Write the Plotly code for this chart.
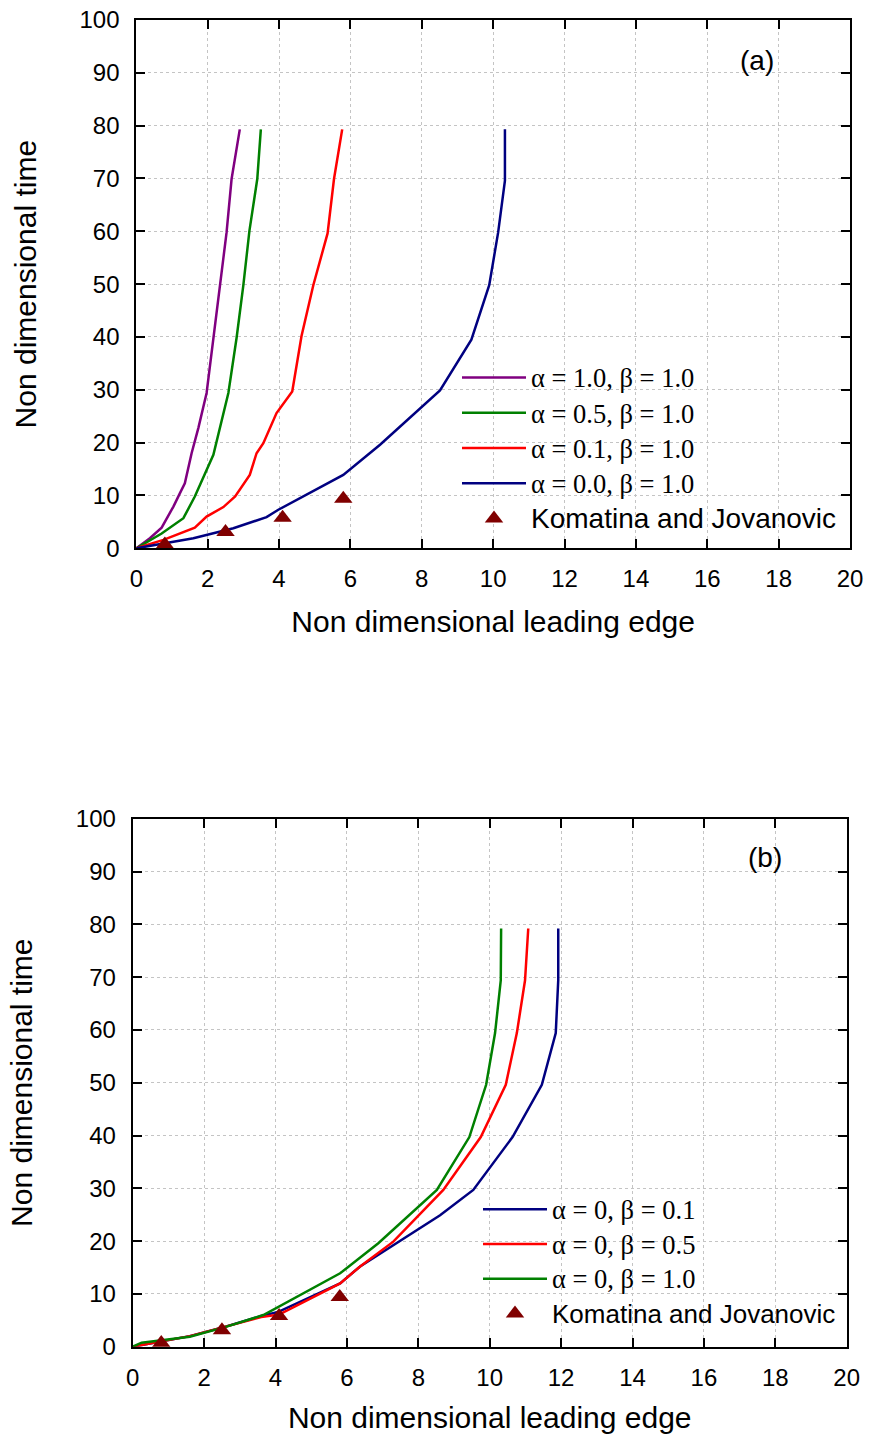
import plotly.graph_objects as go

# ---------------- Data: panel (a) ----------------
a_x_alpha10 = [0, 0.38, 0.71, 1.04, 1.22, 1.36, 1.55, 1.74, 1.97, 2.16, 2.34, 2.53, 2.67, 2.90]
a_y_alpha10 = [0, 1.9, 3.9, 7.9, 10.4, 12.3, 18.0, 22.8, 29.4, 39.8, 49.8, 59.8, 69.9, 79.3]

a_x_alpha05 = [0, 0.71, 1.32, 1.64, 2.16, 2.58, 2.81, 3.00, 3.17, 3.39, 3.49]
a_y_alpha05 = [0, 2.8, 5.7, 9.8, 17.7, 29.4, 39.8, 49.8, 60.1, 69.9, 79.3]

a_x_alpha01 = [0, 0.76, 1.64, 1.97, 2.44, 2.77, 3.18, 3.37, 3.56, 3.93, 4.37, 4.63, 4.96, 5.36, 5.54, 5.77]
a_y_alpha01 = [0, 1.6, 3.9, 6.0, 7.8, 9.8, 13.9, 18.0, 19.9, 25.6, 29.7, 40.2, 49.8, 59.6, 69.9, 79.3]

a_x_alpha00 = [0, 0.76, 1.60, 2.72, 3.65, 3.98, 5.80, 6.83, 8.51, 9.39, 9.89, 10.14, 10.33, 10.33]
a_y_alpha00 = [0, 0.95, 1.9, 3.8, 5.9, 7.3, 13.9, 19.6, 29.9, 39.5, 49.8, 59.8, 69.6, 79.3]

# ---------------- Data: panel (b) ----------------
b_x_beta01 = [0, 0.8, 1.6, 2.6, 3.6, 4.08, 5.81, 6.37, 7.21, 7.95, 8.61, 9.54, 10.64, 11.46, 11.85, 11.92, 11.92]
b_y_beta01 = [0, 1.0, 2.0, 3.8, 5.8, 6.6, 12.0, 15.2, 18.9, 22.1, 24.9, 29.7, 39.7, 49.6, 59.4, 69.4, 79.2]

b_x_beta05 = [0, 0.8, 1.6, 2.6, 3.6, 4.1, 5.81, 6.37, 7.30, 8.70, 9.75, 10.45, 10.76, 10.99, 11.08]
b_y_beta05 = [0, 1.0, 2.0, 3.8, 5.6, 6.1, 12.0, 15.2, 19.9, 29.7, 39.7, 49.6, 59.4, 69.4, 79.2]

b_x_beta10 = [0, 0.25, 1.6, 2.63, 3.66, 5.81, 6.88, 8.52, 9.43, 9.90, 10.15, 10.31, 10.32]
b_y_beta10 = [0, 0.76, 1.9, 3.8, 6.0, 13.9, 19.6, 29.7, 39.7, 49.6, 59.4, 69.4, 79.2]

# Experimental data (Komatina and Jovanovic)
exp_x = [0.8, 2.5, 4.1, 5.8]
exp_y = [0.7, 3.1, 5.8, 9.4]

x_ticks = [0, 2, 4, 6, 8, 10, 12, 14, 16, 18, 20]
y_ticks = [0, 10, 20, 30, 40, 50, 60, 70, 80, 90, 100]

names_a = ["α = 1.0, β = 1.0", "α = 0.5, β = 1.0", "α = 0.1, β = 1.0", "α = 0.0, β = 1.0"]
names_b = ["α = 0, β = 0.1", "α = 0, β = 0.5", "α = 0, β = 1.0"]
exp_label = "Komatina and Jovanovic"

PURPLE, GREEN, RED, BLUE, MAROON = "#800080", "#008000", "#FF0000", "#000080", "#800000"


def serif(txt):
    return "<span style='font-family:Times New Roman, Liberation Serif; font-size:26.5px'>" + txt + "</span>"


def sans(txt, size):
    return "<span style='font-family:Arial, Liberation Sans; font-size:%spx'>" % size + txt + "</span>"


fig = go.Figure()

series_a = [(a_x_alpha10, a_y_alpha10, names_a[0], PURPLE),
            (a_x_alpha05, a_y_alpha05, names_a[1], GREEN),
            (a_x_alpha01, a_y_alpha01, names_a[2], RED),
            (a_x_alpha00, a_y_alpha00, names_a[3], BLUE)]
for xs, ys, nm, col in series_a:
    fig.add_trace(go.Scatter(x=xs, y=ys, mode="lines", name=serif(nm),
                             line=dict(color=col, width=2.5),
                             xaxis="x", yaxis="y", legend="legend"))
fig.add_trace(go.Scatter(x=exp_x, y=exp_y, mode="markers", name=sans(exp_label, 28),
                         marker=dict(symbol="triangle-up", size=16, color=MAROON),
                         xaxis="x", yaxis="y", legend="legend"))

series_b = [(b_x_beta01, b_y_beta01, names_b[0], BLUE),
            (b_x_beta05, b_y_beta05, names_b[1], RED),
            (b_x_beta10, b_y_beta10, names_b[2], GREEN)]
for xs, ys, nm, col in series_b:
    fig.add_trace(go.Scatter(x=xs, y=ys, mode="lines", name=serif(nm),
                             line=dict(color=col, width=2.5),
                             xaxis="x2", yaxis="y2", legend="legend2"))
fig.add_trace(go.Scatter(x=exp_x, y=exp_y, mode="markers", name=sans(exp_label, 26),
                         marker=dict(symbol="triangle-up", size=16, color=MAROON),
                         xaxis="x2", yaxis="y2", legend="legend2"))

W, H = 869, 1434
tickfont = dict(family="Arial, Liberation Sans", size=24, color="black")
titlefont = dict(family="Arial, Liberation Sans", size=30, color="black")


def ax(**kw):
    d = dict(showline=True, linecolor="black", linewidth=2, mirror="ticks",
             ticks="inside", ticklen=9, tickwidth=2, tickcolor="black",
             showgrid=True, gridcolor="#c4c4c4", griddash="dot", gridwidth=1,
             zeroline=False, tickfont=tickfont, automargin=False)
    d.update(kw)
    return d


fig.update_layout(
    width=W, height=H,
    margin=dict(l=0, r=0, t=0, b=0, pad=0, autoexpand=False),
    paper_bgcolor="white", plot_bgcolor="white",
    xaxis=ax(domain=[136.3 / W, 850 / W], anchor="y", range=[0, 20], tickvals=x_ticks,
             ticklabelstandoff=8,
             title=dict(text="Non dimensional leading edge", font=titlefont, standoff=20)),
    yaxis=ax(domain=[1 - 548.3 / H, 1 - 20 / H], anchor="x", range=[0, 100], tickvals=y_ticks,
             ticklabelstandoff=10,
             title=dict(text="Non dimensional time", font=titlefont, standoff=34)),
    xaxis2=ax(domain=[132.7 / W, 846.7 / W], anchor="y2", range=[0, 20], tickvals=x_ticks,
              ticklabelstandoff=8,
              title=dict(text="Non dimensional leading edge", font=titlefont, standoff=20)),
    yaxis2=ax(domain=[1 - 1346.7 / H, 1 - 818.7 / H], anchor="x2", range=[0, 100], tickvals=y_ticks,
              ticklabelstandoff=10,
              title=dict(text="Non dimensional time", font=titlefont, standoff=34)),
    legend=dict(x=457 / W, y=1 - 355 / H, xanchor="left", yanchor="top",
                bgcolor="rgba(0,0,0,0)", borderwidth=0, itemwidth=64,
                font=dict(family="Times New Roman, Liberation Serif", size=24.8, color="black"),
                tracegroupgap=0),
    legend2=dict(x=478 / W, y=1 - 1187 / H, xanchor="left", yanchor="top",
                 bgcolor="rgba(0,0,0,0)", borderwidth=0, itemwidth=64,
                 font=dict(family="Times New Roman, Liberation Serif", size=24.4, color="black"),
                 tracegroupgap=0),
    annotations=[
        dict(text="(a)", x=17.4, y=92.3, xref="x", yref="y", showarrow=False,
             font=dict(family="Arial, Liberation Sans", size=28, color="black")),
        dict(text="(b)", x=17.7, y=92.6, xref="x2", yref="y2", showarrow=False,
             font=dict(family="Arial, Liberation Sans", size=28, color="black")),
    ],
    showlegend=True,
)

fig.write_html("out.html")
